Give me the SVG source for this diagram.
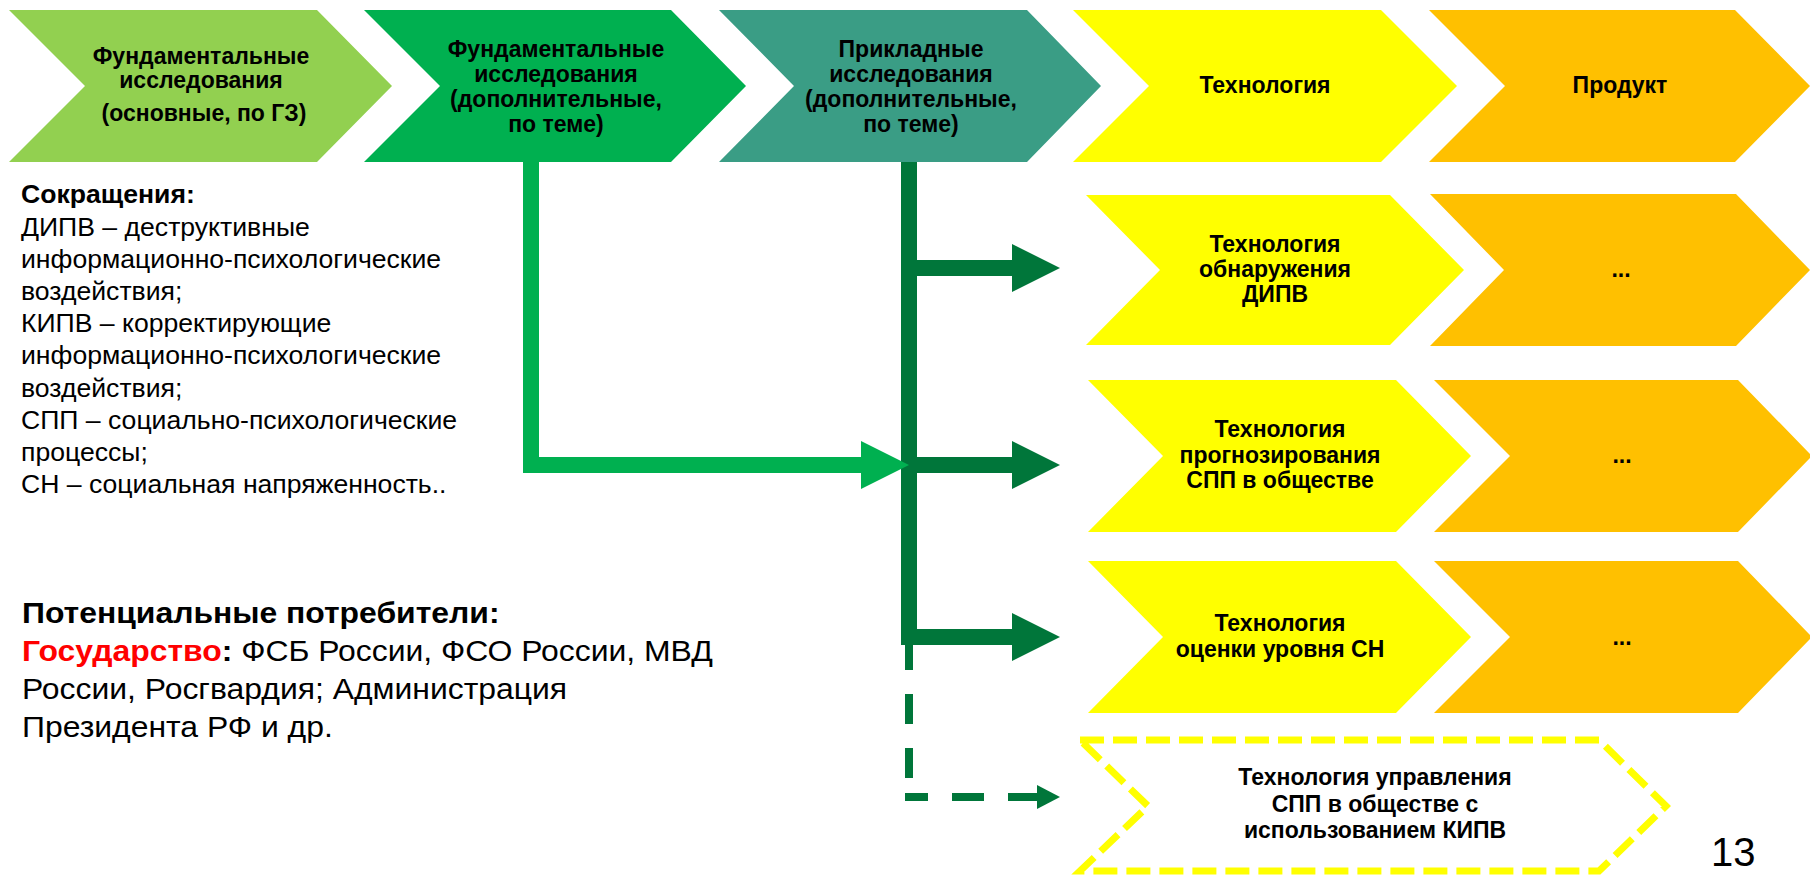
<svg xmlns="http://www.w3.org/2000/svg" width="1810" height="875" viewBox="0 0 1810 875">
<style>
.t{font-family:"Liberation Sans",Arial,sans-serif;font-weight:bold;font-size:23px;fill:#000;text-anchor:middle}
.l{font-family:"Liberation Sans",Arial,sans-serif;font-size:26.6px;fill:#000}
.c{font-family:"Liberation Sans",Arial,sans-serif;font-size:29px;fill:#000}
.b{font-weight:bold}
.yel{fill:#FFFF00}
.org{fill:#FFC000}
.lg{stroke:#00B050;stroke-width:16;fill:none}
.dg{stroke:#00763A;stroke-width:16;fill:none}
.dgd{stroke:#00763A;stroke-width:8;fill:none}
</style>
<rect width="1810" height="875" fill="#fff"/>
<g id="fund-basic">
<polygon points="9,10 317,10 392,86 317,162 9,162 85,86" fill="#92D050"/>
<text class="t" x="201" y="64">Фундаментальные</text>
<text class="t" x="201" y="88">исследования</text>
<text class="t" x="204" y="121">(основные, по ГЗ)</text>
</g>
<g id="fund-extra">
<polygon points="364,10 671,10 746,86 671,162 364,162 440,86" fill="#00B050"/>
<text class="t" x="556" y="57">Фундаментальные</text>
<text class="t" x="556" y="82">исследования</text>
<text class="t" x="556" y="107">(дополнительные,</text>
<text class="t" x="556" y="132">по теме)</text>
</g>
<g id="applied">
<polygon points="719,10 1027,10 1101,86 1027,162 719,162 794,86" fill="#3A9D85"/>
<text class="t" x="911" y="57">Прикладные</text>
<text class="t" x="911" y="82">исследования</text>
<text class="t" x="911" y="107">(дополнительные,</text>
<text class="t" x="911" y="132">по теме)</text>
</g>
<g id="technology">
<polygon class="yel" points="1073,10 1381,10 1457,86 1381,162 1073,162 1149,86"/>
<text class="t" x="1265" y="93">Технология</text>
</g>
<g id="product">
<polygon class="org" points="1429,10 1735,10 1810,86 1735,162 1429,162 1505,86"/>
<text class="t" x="1620" y="93">Продукт</text>
</g>
<g id="tech-detect">
<polygon class="yel" points="1086,195 1390,195 1464,270 1390,345 1086,345 1160,270"/>
<text class="t" x="1275" y="252">Технология</text>
<text class="t" x="1275" y="277">обнаружения</text>
<text class="t" x="1275" y="302">ДИПВ</text>
</g>
<g id="prod-1">
<polygon class="org" points="1430,194 1736,194 1810,270 1736,346 1430,346 1504,270"/>
<text class="t" x="1621" y="277">...</text>
</g>
<g id="tech-forecast">
<polygon class="yel" points="1088,380 1396,380 1471,456 1396,532 1088,532 1163,456"/>
<text class="t" x="1280" y="437">Технология</text>
<text class="t" x="1280" y="463">прогнозирования</text>
<text class="t" x="1280" y="488">СПП в обществе</text>
</g>
<g id="prod-2">
<polygon class="org" points="1434,380 1738,380 1812,456 1738,532 1434,532 1510,456"/>
<text class="t" x="1622" y="463">...</text>
</g>
<g id="tech-tension">
<polygon class="yel" points="1088,561 1396,561 1471,637 1396,713 1088,713 1163,637"/>
<text class="t" x="1280" y="631">Технология</text>
<text class="t" x="1280" y="657">оценки уровня СН</text>
</g>
<g id="prod-3">
<polygon class="org" points="1434,561 1738,561 1812,637 1738,713 1434,713 1510,637"/>
<text class="t" x="1622" y="645">...</text>
</g>
<g id="tech-control">
<polygon points="1080,740 1599,740 1666,806 1599,871 1080,871 1148,806" fill="none" stroke="#FFFF00" stroke-width="7" stroke-dasharray="24 9"/>
<text class="t" x="1375" y="785">Технология управления</text>
<text class="t" x="1375" y="812">СПП в обществе с</text>
<text class="t" x="1375" y="838">использованием КИПВ</text>
</g>
<g id="connectors">
<path class="dg" d="M909,162 V645"/>
<path class="dg" d="M909,268 H1014"/>
<polygon fill="#00763A" points="1012,244 1060,268 1012,292"/>
<path class="dg" d="M909,465 H1014"/>
<polygon fill="#00763A" points="1012,441 1060,465 1012,489"/>
<path class="dg" d="M901,637 H1014"/>
<polygon fill="#00763A" points="1012,613 1060,637 1012,661"/>
<path class="dgd" d="M909,640 V786" stroke-dasharray="30 24"/>
<path class="dgd" d="M905,797 H1039" stroke-dasharray="23 24 32 24 32 24"/>
<polygon fill="#00763A" points="1037,785 1060,797 1037,809"/>
<path class="lg" d="M531,162 V465 H863" stroke-linejoin="miter"/>
<polygon fill="#00B050" points="861,441 909,465 861,489"/>
</g>
<g id="abbreviations">
<text class="l b" x="21" y="203">Сокращения:</text>
<text class="l" x="21" y="236">ДИПВ – деструктивные</text>
<text class="l" x="21" y="268">информационно-психологические</text>
<text class="l" x="21" y="300">воздействия;</text>
<text class="l" x="21" y="332">КИПВ – корректирующие</text>
<text class="l" x="21" y="364">информационно-психологические</text>
<text class="l" x="21" y="397">воздействия;</text>
<text class="l" x="21" y="429">СПП – социально-психологические</text>
<text class="l" x="21" y="461">процессы;</text>
<text class="l" x="21" y="493">СН – социальная напряженность..</text>
</g>
<g id="consumers" transform="translate(22 0) scale(1.1 1)">
<text class="c b" x="0" y="623">Потенциальные потребители:</text>
<text class="c" x="0" y="661"><tspan class="b" fill="#FF0000">Государство</tspan><tspan class="b">:</tspan> ФСБ России, ФСО России, МВД</text>
<text class="c" x="0" y="699">России, Росгвардия; Администрация</text>
<text class="c" x="0" y="737">Президента РФ и др.</text>
</g>
<text id="page-number" x="1711" y="866" font-family="Liberation Sans, Arial, sans-serif" font-size="40" fill="#000">13</text>
</svg>
